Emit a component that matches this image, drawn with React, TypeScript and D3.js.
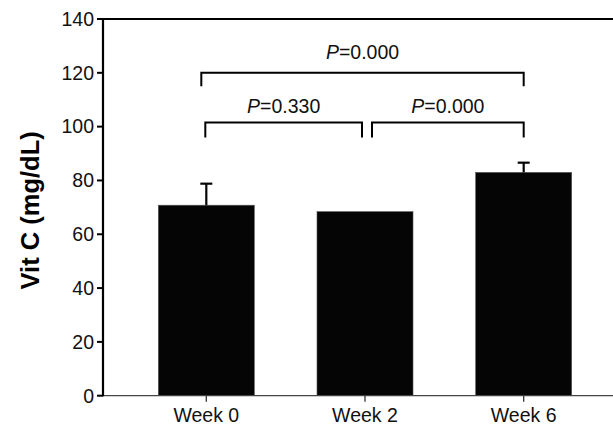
import React from "react";
import * as d3 from "d3";

const categories = ["Week 0", "Week 2", "Week 6"];
const means = [70.8, 68.4, 83.0];
const errors = [8.0, 0, 3.6];
const yTicks = [0, 20, 40, 60, 80, 100, 120, 140];
const bracketFrom = ["Week 0", "Week 0", "Week 2"];
const bracketTo = ["Week 6", "Week 2", "Week 6"];
const bracketLevel = [120, 101.5, 101.5];
const bracketLabelLevel = [125, 105, 105];
const bracketP = ["0.000", "0.330", "0.000"];

const W = 613;
const H = 428;
const FONT = "'Liberation Sans', Arial, Helvetica, sans-serif";

export default function App() {
  const left = 103;
  const right = 613;
  const top = 19;
  const bottom = 395.7;

  const y = d3.scaleLinear().domain([0, 140]).range([bottom, top]);
  const x = d3
    .scaleBand<string>()
    .domain(categories)
    .range([110.7, 619.3])
    .paddingInner(0.395)
    .paddingOuter(0.3);
  const bw = x.bandwidth();
  const cx = (c: string) => (x(c) as number) + bw / 2;

  // bracket end offsets relative to bar centres
  const endOffset = (c: string, side: "l" | "r", idx: number) => {
    if (idx === 0) return side === "l" ? -5 : 0;
    if (side === "l") return c === "Week 0" ? -1 : 7;
    return c === "Week 2" ? -3 : 0;
  };

  return (
    <svg
      width={W}
      height={H}
      style={{ position: "absolute", left: 0, top: 0, background: "#fff" }}
      fontFamily={FONT}
    >
      {categories.map((c, i) => (
        <rect
          key={c}
          x={x(c)}
          y={y(means[i])}
          width={bw}
          height={y(0) - y(means[i])}
          fill="#050505"
          stroke="#555"
          strokeWidth={0.6}
        />
      ))}
      {categories.map((c, i) =>
        errors[i] > 0 ? (
          <g key={"e" + c} stroke="#050505" strokeWidth={2.2}>
            <line x1={cx(c)} x2={cx(c)} y1={y(means[i])} y2={y(means[i] + errors[i])} />
            <line
              x1={cx(c) - 6}
              x2={cx(c) + 6}
              y1={y(means[i] + errors[i])}
              y2={y(means[i] + errors[i])}
            />
          </g>
        ) : null
      )}
      <line x1={left} x2={right} y1={bottom} y2={bottom} stroke="#444" strokeWidth={1.3} />
      <line x1={left} x2={right} y1={top} y2={top} stroke="#000" strokeWidth={2.2} />
      <line x1={left} x2={left} y1={top - 1} y2={bottom + 0.6} stroke="#000" strokeWidth={2.2} />
      {yTicks.map((t) => (
        <g key={t}>
          <line x1={left - 6} x2={left} y1={y(t)} y2={y(t)} stroke="#000" strokeWidth={2} />
          <text
            x={left - 9}
            y={y(t)}
            dy="0.35em"
            textAnchor="end"
            fontSize={19.5}
            fill="#111"
          >
            {t}
          </text>
        </g>
      ))}
      {categories.map((c) => (
        <g key={"x" + c}>
          <line x1={cx(c)} x2={cx(c)} y1={bottom} y2={bottom + 6} stroke="#333" strokeWidth={1.3} />
          <text x={cx(c)} y={421.5} textAnchor="middle" fontSize={19.5} fill="#111">
            {c}
          </text>
        </g>
      ))}
      <text
        transform={`translate(39, ${(top + bottom) / 2 + 3}) rotate(-90)`}
        textAnchor="middle"
        fontSize={25.5}
        fontWeight="bold"
        fill="#000"
      >
        Vit C (mg/dL)
      </text>
      {bracketFrom.map((f, i) => {
        const x1 = cx(f) + endOffset(f, "l", i);
        const x2 = cx(bracketTo[i]) + endOffset(bracketTo[i], "r", i);
        const yy = y(bracketLevel[i]);
        const drop = i === 0 ? 13.5 : 15;
        return (
          <g key={"b" + i}>
            <path
              d={`M${x1},${yy + drop}V${yy}H${x2}V${yy + drop}`}
              fill="none"
              stroke="#000"
              strokeWidth={2}
            />
            <text
              x={(x1 + x2) / 2}
              y={y(bracketLabelLevel[i])}
              textAnchor="middle"
              fontSize={19.5}
              fill="#111"
            >
              <tspan fontStyle="italic">P</tspan>={bracketP[i]}
            </text>
          </g>
        );
      })}
    </svg>
  );
}
